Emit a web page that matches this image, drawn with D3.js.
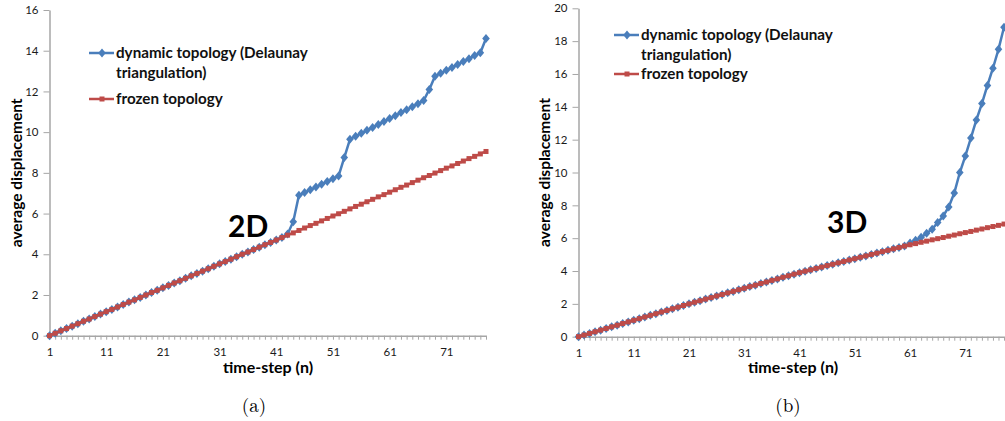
<!DOCTYPE html>
<html lang="en">
<head>
  <meta charset="utf-8">
  <title>Average displacement: dynamic vs frozen topology</title>
  <script type="text/javascript" src="https://cdn.jsdelivr.net/npm/d3@7"></script>
  <style type="text/css">
    body { margin: 0; background: #fff; }
    text { font-family: Lato, "Open Sans", sans-serif; }
  </style>
</head>
<body>
<div id="chart"></div>
<script type="text/javascript">

const w = 1005;
const h = 421;

// time-steps 1..78
const steps = d3.range(1, 79);
const xLabels = [1, 11, 21, 31, 41, 51, 61, 71];
const yTicks2D = [0, 2, 4, 6, 8, 10, 12, 14, 16];
const yTicks3D = [0, 2, 4, 6, 8, 10, 12, 14, 16, 18, 20];
const seriesNames = ["dynamic topology (Delaunay", "triangulation)", "frozen topology"];

// (a) 2D
const dynamic2D = [
  0, 0.12, 0.24, 0.35, 0.47, 0.59, 0.71, 0.82, 0.94, 1.06,
  1.18, 1.29, 1.41, 1.53, 1.65, 1.76, 1.88, 2.00, 2.12, 2.23,
  2.35, 2.47, 2.59, 2.70, 2.82, 2.94, 3.06, 3.17, 3.29, 3.41,
  3.53, 3.64, 3.76, 3.88, 4.00, 4.11, 4.23, 4.35, 4.47, 4.58,
  4.70, 4.82, 5.00, 5.60, 6.90, 7.03, 7.17, 7.30, 7.44, 7.57,
  7.71, 7.85, 8.75, 9.65, 9.80, 9.94, 10.09, 10.23, 10.38, 10.52,
  10.67, 10.81, 10.96, 11.10, 11.25, 11.40, 11.55, 12.10, 12.75, 12.89,
  13.04, 13.18, 13.32, 13.47, 13.61, 13.76, 13.90, 14.60
];
const frozen2D = [
  0, 0.12, 0.24, 0.35, 0.47, 0.59, 0.71, 0.82, 0.94, 1.06,
  1.18, 1.29, 1.41, 1.53, 1.65, 1.76, 1.88, 2.00, 2.12, 2.23,
  2.35, 2.47, 2.59, 2.70, 2.82, 2.94, 3.06, 3.17, 3.29, 3.41,
  3.53, 3.64, 3.76, 3.88, 4.00, 4.11, 4.23, 4.35, 4.47, 4.58,
  4.70, 4.82, 4.94, 5.05, 5.17, 5.29, 5.41, 5.52, 5.64, 5.76,
  5.88, 5.99, 6.11, 6.23, 6.35, 6.46, 6.58, 6.70, 6.82, 6.93,
  7.05, 7.17, 7.29, 7.40, 7.52, 7.64, 7.76, 7.87, 7.99, 8.11,
  8.23, 8.34, 8.46, 8.58, 8.70, 8.81, 8.93, 9.05
];

// (b) 3D
const dynamic3D = [
  0, 0.10, 0.20, 0.30, 0.40, 0.50, 0.60, 0.70, 0.80, 0.90,
  1.00, 1.10, 1.20, 1.30, 1.40, 1.50, 1.60, 1.70, 1.80, 1.90,
  2.00, 2.10, 2.19, 2.29, 2.38, 2.48, 2.57, 2.67, 2.76, 2.86,
  2.95, 3.05, 3.14, 3.24, 3.33, 3.43, 3.52, 3.62, 3.71, 3.81,
  3.90, 3.99, 4.07, 4.16, 4.24, 4.33, 4.41, 4.50, 4.58, 4.67,
  4.75, 4.84, 4.92, 5.01, 5.09, 5.18, 5.26, 5.35, 5.43, 5.52,
  5.70, 5.88, 6.05, 6.30, 6.55, 6.95, 7.35, 7.90, 8.75, 10.00,
  11.00, 12.10, 13.20, 14.20, 15.30, 16.35, 17.50, 18.85
];
const frozen3D = [
  0, 0.10, 0.20, 0.30, 0.40, 0.50, 0.60, 0.70, 0.80, 0.90,
  1.00, 1.10, 1.20, 1.30, 1.40, 1.50, 1.60, 1.70, 1.80, 1.90,
  2.00, 2.10, 2.19, 2.29, 2.38, 2.48, 2.57, 2.67, 2.76, 2.86,
  2.95, 3.05, 3.14, 3.24, 3.33, 3.43, 3.52, 3.62, 3.71, 3.81,
  3.90, 3.99, 4.07, 4.16, 4.24, 4.33, 4.41, 4.50, 4.58, 4.67,
  4.75, 4.84, 4.92, 5.01, 5.09, 5.18, 5.26, 5.35, 5.43, 5.52,
  5.60, 5.67, 5.75, 5.82, 5.90, 5.97, 6.04, 6.12, 6.19, 6.27,
  6.34, 6.41, 6.49, 6.56, 6.64, 6.71, 6.78, 6.86
];

const blue = "#4a7ebb";
const red = "#be4b48";
const axisColor = "#a6a6a6";

const svg = d3.select("#chart")
  .append("svg")
  .attr("width", w)
  .attr("height", h);

const diamond = "M0,-4.5L3.8,0L0,4.5L-3.8,0Z";

function drawPanel(p) {
  const x = d3.scaleLinear().domain([1, 78]).range([p.left, p.right]);
  const y = d3.scaleLinear().domain([0, p.yMax]).range([p.bottom, p.top]);
  const g = svg.append("g");

  // y axis
  const yAxis = g.append("g")
    .attr("transform", `translate(${p.left},0)`)
    .call(d3.axisLeft(y).tickValues(p.yTicks).tickSize(6).tickPadding(5).tickSizeOuter(0));
  // x axis, a tick on every step, a label every 10
  const xAxis = g.append("g")
    .attr("transform", `translate(0,${p.bottom})`)
    .call(d3.axisBottom(x).tickValues(steps).tickSize(4).tickPadding(8).tickSizeOuter(0)
      .tickFormat(d => xLabels.includes(d) ? d : ""));

  [yAxis, xAxis].forEach(a => {
    a.selectAll("path, line").attr("stroke", axisColor).attr("stroke-width", 1);
    a.selectAll("text").attr("fill", "#1a1a1a").style("font-size", "11.5px");
  });
  xAxis.select(".domain").attr("stroke-width", 1.5);
  yAxis.select(".domain").attr("stroke-width", 1.5);

  // axis titles
  g.append("text")
    .attr("transform", `translate(${p.yTitleX},${(p.top + p.bottom) / 2}) rotate(-90)`)
    .attr("text-anchor", "middle")
    .style("font-size", "15.5px").style("font-weight", "bold")
    .text("average displacement");
  g.append("text")
    .attr("x", p.xTitleX).attr("y", 373)
    .attr("text-anchor", "middle")
    .style("font-size", "16px").style("font-weight", "bold")
    .text("time-step (n)");

  const line = d3.line().x((d, i) => x(steps[i])).y(d => y(d));

  // dynamic (blue diamonds) first, frozen (red squares) on top
  g.append("path").datum(p.dynamic)
    .attr("fill", "none").attr("stroke", blue).attr("stroke-width", 2.5)
    .attr("d", line);
  g.selectAll("path.dm").data(p.dynamic).enter().append("path")
    .attr("class", "dm")
    .attr("d", diamond)
    .attr("fill", blue)
    .attr("transform", (d, i) => `translate(${x(steps[i])},${y(d)})`);

  g.append("path").datum(p.frozen)
    .attr("fill", "none").attr("stroke", red).attr("stroke-width", 2.5)
    .attr("d", line);
  g.selectAll("rect.fm").data(p.frozen).enter().append("rect")
    .attr("class", "fm")
    .attr("x", (d, i) => x(steps[i]) - 2.5)
    .attr("y", d => y(d) - 2.5)
    .attr("width", 5).attr("height", 5)
    .attr("fill", red);

  // legend
  const lg = g.append("g").attr("transform", `translate(${p.legX},${p.legY})`);
  lg.append("line").attr("x1", 0).attr("x2", 25).attr("y1", 0).attr("y2", 0)
    .attr("stroke", blue).attr("stroke-width", 2.5);
  lg.append("path").attr("d", diamond).attr("fill", blue).attr("transform", "translate(13,0)");
  lg.append("line").attr("x1", 0).attr("x2", 25).attr("y1", p.legGap).attr("y2", p.legGap)
    .attr("stroke", red).attr("stroke-width", 2.5);
  lg.append("rect").attr("x", 10.5).attr("y", p.legGap - 2.5).attr("width", 5).attr("height", 5)
    .attr("fill", red);
  lg.selectAll("text.leg")
    .data([[seriesNames[0], 0], [seriesNames[1], p.legLine2], [seriesNames[2], p.legGap]])
    .enter().append("text")
    .attr("class", "leg")
    .attr("x", 27).attr("y", d => d[1] + 5)
    .style("font-size", "15.2px").style("font-weight", "bold")
    .attr("fill", "#111")
    .text(d => d[0]);

  // panel label
  g.append("text")
    .attr("x", p.tagX).attr("y", p.tagY)
    .style("font-size", "30px").style("font-weight", "bold")
    .attr("fill", "#000")
    .text(p.tag);

  // caption
  svg.append("text")
    .attr("x", p.capX).attr("y", 412)
    .attr("text-anchor", "middle")
    .style("font-family", "'Latin Modern Roman', 'DejaVu Serif', serif")
    .style("font-size", "19px")
    .text(p.caption);
}

drawPanel({
  left: 49.5, right: 486, top: 10, bottom: 335.7, yMax: 16, yTicks: yTicks2D,
  dynamic: dynamic2D, frozen: frozen2D,
  yTitleX: 22, xTitleX: 268,
  legX: 89, legY: 53, legGap: 46, legLine2: 20,
  tag: "2D", tagX: 228, tagY: 237,
  caption: "(a)", capX: 254
});

drawPanel({
  left: 578.5, right: 1004, top: 8.3, bottom: 336.7, yMax: 20, yTicks: yTicks3D,
  dynamic: dynamic3D, frozen: frozen3D,
  yTitleX: 550, xTitleX: 793,
  legX: 614, legY: 35, legGap: 39, legLine2: 20,
  tag: "3D", tagX: 827, tagY: 233,
  caption: "(b)", capX: 788
});

</script>
</body>
</html>
